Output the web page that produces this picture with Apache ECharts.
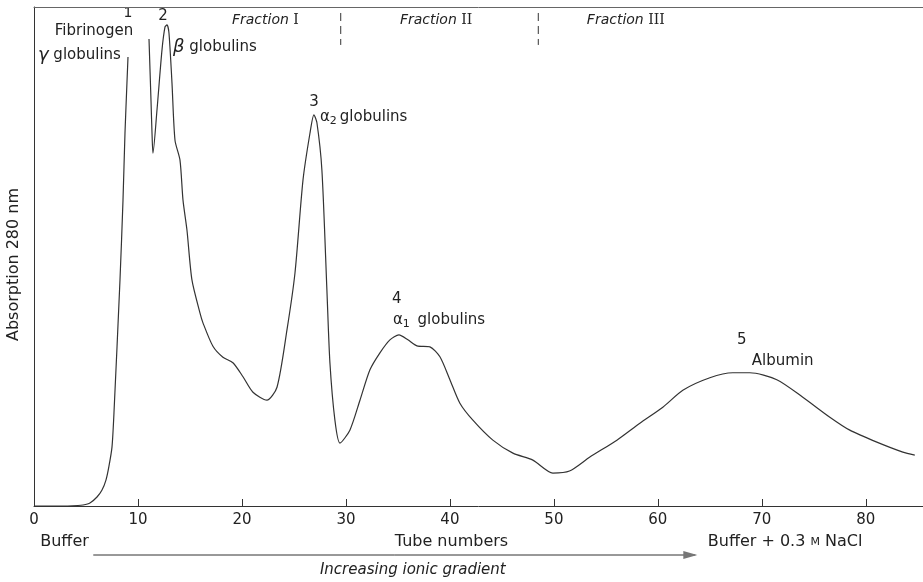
<!DOCTYPE html>
<html><head><meta charset="utf-8">
<script src="https://cdn.jsdelivr.net/npm/echarts@6/dist/echarts.min.js"></script>
<style>html,body{margin:0;padding:0;background:#fff}#c{width:923px;height:582px}</style>
</head><body><div id="c"></div>
<script>
// Tube number (x) and absorption at 280 nm (relative units, 0-100); null = off-scale gap (peak 1)
const tubeNumbers = [0, 2.5, 4.23, 4.71, 5.38, 6.06, 6.54, 6.92, 7.21, 7.5, 7.69, 8.27, 8.56, 8.75, 8.94, 9.04,
  10.0,
  11.06, 11.25, 11.35, 11.44, 11.83, 12.31, 12.6, 12.79, 12.98, 13.27, 13.56, 14.04, 14.33, 14.71, 15.19, 15.96, 16.25, 17.21,
  18.17, 19.13, 20.1, 21.06, 22.4, 23.37, 24.33, 25.1, 25.87, 26.54, 26.92, 27.21, 27.69, 28.17, 28.46, 28.94, 29.42,
  30.38, 31.35, 32.31, 33.27, 34.23, 35.1, 35.96, 36.83, 38.08, 39.04, 40.0, 40.96, 42.21, 44.13, 46.06, 47.98, 49.9,
  51.5, 53.46, 56.06, 58.27, 60.48, 62.4, 65.0, 67.21, 68.85, 71.44, 73.94, 76.54, 78.46, 81.06, 83.56, 84.71];
const absorption = [0, 0, 0.1, 0.2, 0.6, 1.8, 3.2, 5.2, 8.0, 11.8, 18.6, 45.3, 61.3, 74.7, 84.8, 90.0,
  null,
  93.6, 81.4, 74.7, 70.7, 79.4, 91.4, 96.0, 96.4, 94.8, 84.8, 73.3, 69.3, 61.3, 55.3, 45.3, 38.7, 36.7, 32.0,
  29.8, 28.7, 25.9, 22.8, 21.2, 23.8, 35.3, 46.7, 65.3, 74.7, 78.4, 76.8, 67.3, 43.3, 28.7, 17.2, 12.6,
  15.2, 21.2, 27.3, 30.7, 33.3, 34.3, 33.3, 32.1, 31.9, 29.9, 25.3, 20.6, 17.2, 13.2, 10.6, 9.2, 6.6,
  7.0, 9.8, 13.2, 16.6, 19.8, 23.2, 25.7, 26.7, 26.7, 25.3, 21.8, 17.8, 15.2, 12.8, 10.8, 10.2];
const xTickValues = [0, 10, 20, 30, 40, 50, 60, 70, 80];
const fractionBounds = [29.5, 48.5];
const fractionNames = ['Fraction {r|I}', 'Fraction {r|II}', 'Fraction {r|III}'];
const peakNumbers = ['1', '2', '3', '4', '5'];
const peakNames = ['Fibrinogen', '{g|γ} globulins', '{g|β} globulins', 'α{s|2}globulins', 'α{s|1} globulins', 'Albumin'];
const yAxisTitle = 'Absorption 280 nm';
const xAxisTitle = 'Tube numbers';
const startBuffer = 'Buffer';
const endBuffer = 'Buffer + 0.3 {m|M} NaCl';
const gradientText = 'Increasing ionic gradient';

const FONT = 'DejaVu Sans';
const TXT = '#222';
const chart = echarts.init(document.getElementById('c'), null, {renderer: 'canvas'});
const lineData = tubeNumbers.map((t, i) => [t, absorption[i] === null ? '-' : absorption[i]]);
const dashSeries = fractionBounds.map(b => ({
  type: 'line', data: [[b, 98.8], [b, 92.4]], symbol: 'none', silent: true,
  lineStyle: {color: '#333', width: 1, type: [8, 5]}
}));
chart.setOption({
  animation: false,
  grid: {left: 34, right: 0, top: 7, bottom: 76, containLabel: false},
  xAxis: [{
    type: 'value', min: 0, max: 85.5, interval: 10, position: 'bottom',
    axisLine: {show: true, lineStyle: {color: '#333', width: 1}},
    axisTick: {show: true, inside: true, length: 7, lineStyle: {color: '#333'}},
    axisLabel: {show: true, color: TXT, fontFamily: FONT, fontSize: 15, margin: 7, showMaxLabel: false,
      formatter: v => xTickValues.includes(v) ? String(v) : ''},
    splitLine: {show: false}
  }, {
    type: 'value', min: 0, max: 85.5, position: 'top',
    axisLine: {show: true, lineStyle: {color: '#666', width: 1}},
    axisTick: {show: false}, axisLabel: {show: false}, splitLine: {show: false}
  }],
  yAxis: {
    type: 'value', min: 0, max: 100,
    axisLine: {show: true, lineStyle: {color: '#333', width: 1}},
    axisTick: {show: false}, axisLabel: {show: false}, splitLine: {show: false}
  },
  series: [{
    type: 'line', data: lineData, symbol: 'none', smooth: 0.25, connectNulls: false,
    lineStyle: {color: '#333', width: 1.2}
  }].concat(dashSeries)
});

const P = (t, v) => chart.convertToPixel({xAxisIndex: 0, yAxisIndex: 0}, [t, v]);
const rich = {
  r: {fontFamily: 'DejaVu Serif', fontStyle: 'normal', fontSize: 14, fill: TXT},
  g: {fontFamily: FONT, fontSize: 18, fill: TXT, fontStyle: 'italic'},
  s: {fontFamily: FONT, fontSize: 11, fill: TXT, padding: [8, 3, 0, 0]},
  m: {fontFamily: FONT, fontSize: 11, fill: TXT}
};
function label(text, t, v, align, opts) {
  const p = P(t, v);
  return {
    type: 'text', x: p[0], y: p[1],
    style: Object.assign({text: text, fill: TXT, font: '15px "' + FONT + '"', align: align || 'left', verticalAlign: 'middle', rich: rich}, opts || {})
  };
}
const axisY = P(0, 0)[1];
const F = (s, it) => (it ? 'italic ' : '') + s + 'px "' + FONT + '"';
const graphics = [
  label(peakNumbers[0], 9.04, 98.8, 'center', {font: F(14)}),
  label(peakNames[0], 2.0, 95.2, 'left', {font: F(15)}),
  label(peakNames[1], 0.38, 90.4, 'left', {font: F(15)}),
  label(peakNumbers[1], 12.4, 98.2, 'center', {font: F(15)}),
  label(peakNames[2], 13.37, 92.0, 'left', {font: F(15)}),
  label(fractionNames[0], 19.04, 97.4, 'left', {font: F(14, true)}),
  label(fractionNames[1], 35.19, 97.4, 'left', {font: F(14, true)}),
  label(fractionNames[2], 53.17, 97.4, 'left', {font: F(14, true)}),
  label(peakNumbers[2], 26.92, 81.0, 'center', {font: F(15)}),
  label(peakNames[3], 27.5, 78.0, 'left', {font: F(15)}),
  label(peakNumbers[3], 34.9, 41.5, 'center', {font: F(15)}),
  label(peakNames[4], 34.52, 37.3, 'left', {font: F(15)}),
  label(peakNumbers[4], 68.08, 33.3, 'center', {font: F(15)}),
  label(peakNames[5], 69.04, 29.1, 'left', {font: F(15)}),
  {type: 'text', x: P(0.6, 0)[0], y: axisY + 36, style: {text: startBuffer, fill: TXT, font: F(16), verticalAlign: 'middle'}},
  {type: 'text', x: P(34.7, 0)[0], y: axisY + 36, style: {text: xAxisTitle, fill: TXT, font: F(16), verticalAlign: 'middle'}},
  {type: 'text', x: P(64.8, 0)[0], y: axisY + 36, style: {text: endBuffer, fill: TXT, font: F(16), verticalAlign: 'middle', rich: rich}},
  {type: 'text', x: P(27.5, 0)[0], y: axisY + 64, style: {text: gradientText, fill: TXT, font: F(15, true), verticalAlign: 'middle'}},
  {type: 'line', shape: {x1: P(5.7, 0)[0], y1: axisY + 49, x2: P(63.6, 0)[0], y2: axisY + 49}, style: {stroke: '#333', lineWidth: 1}},
  {type: 'polygon', shape: {points: [[P(63.6, 0)[0] - 12, axisY + 45], [P(63.6, 0)[0] + 2, axisY + 49], [P(63.6, 0)[0] - 12, axisY + 53]]}, style: {fill: '#777'}},
  {type: 'text', x: 14, y: (P(0, 0)[1] + P(0, 100)[1]) / 2 + 8, rotation: Math.PI / 2,
    style: {text: yAxisTitle, fill: TXT, font: F(16), align: 'center', verticalAlign: 'middle'}}
];
chart.setOption({graphic: graphics});
</script>
</body></html>
